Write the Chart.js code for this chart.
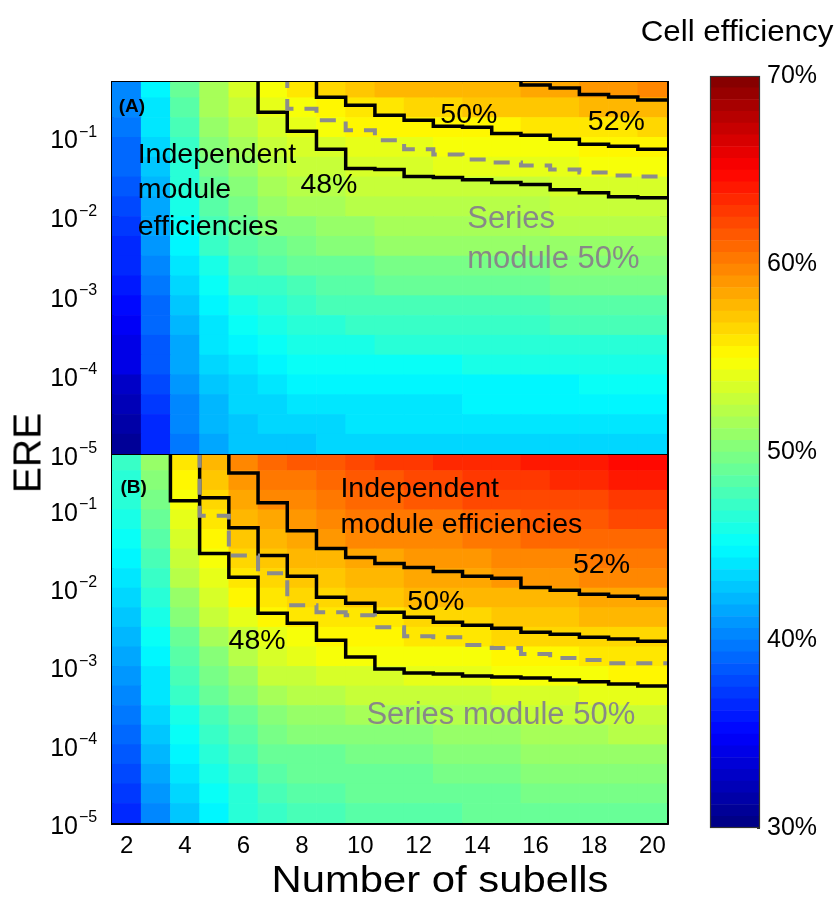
<!DOCTYPE html>
<html>
<head>
<meta charset="utf-8">
<script src="https://cdn.jsdelivr.net/npm/chart.js@4/dist/chart.umd.min.js"></script>
<style>
  body { margin: 0; background: #fff; width: 839px; height: 899px; position: relative; overflow: hidden;
         font-family: "Liberation Sans", Arial, Helvetica, sans-serif; }
  canvas { position: absolute; }
  #panelA { left: 0; top: 0; }
  #panelB { left: 0; top: 440px; }
  #cbar { left: 640px; top: 0; }
  .lbl { position: absolute; color: #000; white-space: nowrap; line-height: 1; }
  #yTitle { left: 27px; top: 453px; font-size: 39px; transform: translate(-50%, -50%) rotate(-90deg); }
  #xTitle { left: 440px; top: 879px; font-size: 37px; transform: translate(-50%, -50%) scaleX(1.13); }
  #cTitle { left: 737px; top: 31px; font-size: 29px; transform: translate(-50%, -50%) scaleX(1.08); }
</style>
</head>
<body>
<canvas id="panelA" width="700" height="480"></canvas>
<canvas id="panelB" width="700" height="459"></canvas>
<canvas id="cbar" width="199" height="860"></canvas>
<div class="lbl" id="yTitle">ERE</div>
<div class="lbl" id="xTitle">Number of subells</div>
<div class="lbl" id="cTitle">Cell efficiency</div>
<script>
const FONT = '"Liberation Sans", Arial, Helvetica, sans-serif';

// one heat-map column per subcell count
const subcells = [2, 3, 4, 5, 6, 7, 8, 9, 10, 11, 12, 13, 14, 15, 16, 17, 18, 19, 20];
const xTicks = [2, 4, 6, 8, 10, 12, 14, 16, 18, 20];
// ERE row edges (powers of ten), 19 rows
const ereEdgesExp = [-5, -4.75, -4.5, -4.25, -4, -3.75, -3.5, -3.25, -3, -2.75, -2.5, -2.25, -2, -1.75, -1.5, -1.25, -1, -0.75, -0.5, -0.25];
const ereMin = 1e-5;
const ereMax = 0.5;
const ereDecades = [1e-5, 1e-4, 1e-3, 1e-2, 1e-1];
const cbarTicks = [30, 40, 50, 60, 70];

// cell efficiency (%) for panel A, one array per column, rows bottom -> top
const effA = [
  [30.9,31.6,32.4,33.1,33.8,34.3,34.8,35.3,35.8,36.3,36.8,37.3,37.8,38.3,38.8,39.3,39.7,40.0,40.4],
  [36.3,36.8,37.3,37.8,38.2,38.6,38.9,39.3,39.8,40.3,40.8,41.3,41.8,42.3,42.8,43.3,43.8,44.3,44.8],
  [39.7,40.1,40.4,40.8,41.3,41.8,42.3,42.8,43.3,43.9,44.6,45.2,45.8,46.3,46.8,47.3,47.8,48.3,48.8],
  [41.7,42.1,42.4,42.8,43.3,43.8,44.3,44.8,45.4,46.1,46.9,47.6,48.3,48.9,49.6,50.2,50.8,51.3,51.8],
  [42.5,42.9,43.3,43.7,44.3,44.9,45.6,46.2,46.9,47.6,48.4,49.1,49.8,50.4,51.1,51.7,52.3,52.8,53.3],
  [42.8,43.2,43.6,44.1,44.7,45.4,46.1,46.7,47.4,48.3,49.2,50.1,50.8,51.4,52.1,52.7,53.4,54.1,54.8],
  [43.1,43.5,43.9,44.4,45.1,45.8,46.5,47.2,47.9,48.8,49.7,50.6,51.3,51.9,52.6,53.2,53.9,54.9,56.0],
  [43.2,43.6,44.0,44.5,45.2,46.0,46.8,47.6,48.4,49.3,50.2,51.1,51.8,52.4,53.1,53.7,54.4,55.4,56.5],
  [43.4,43.8,44.3,44.8,45.5,46.2,47.0,47.7,48.4,49.3,50.2,51.1,51.9,52.6,53.4,54.1,55.0,56.2,57.4],
  [43.4,43.8,44.3,44.8,45.6,46.4,47.3,48.1,48.9,49.8,50.7,51.6,52.3,52.9,53.6,54.2,55.0,56.2,57.5],
  [43.4,43.8,44.3,44.8,45.6,46.4,47.3,48.1,48.9,49.8,50.7,51.6,52.3,52.9,53.6,54.2,55.1,56.5,57.8],
  [43.4,43.8,44.3,44.8,45.6,46.4,47.3,48.1,48.9,49.8,50.7,51.6,52.4,53.1,53.9,54.6,55.5,56.7,57.9],
  [43.5,43.9,44.4,44.9,45.7,46.5,47.3,48.1,48.9,49.8,50.7,51.6,52.4,53.1,53.9,54.6,55.6,56.9,58.1],
  [43.5,43.9,44.4,44.9,45.7,46.5,47.3,48.1,48.9,49.8,50.7,51.6,52.4,53.1,53.9,54.6,55.6,56.9,58.1],
  [43.5,43.9,44.4,44.9,45.7,46.5,47.3,48.1,48.9,49.8,50.7,51.6,52.4,53.1,53.9,54.6,55.7,57.1,58.6],
  [43.5,43.9,44.4,44.9,45.8,46.7,47.6,48.5,49.4,50.3,51.2,52.1,52.8,53.4,54.1,54.7,55.7,57.1,58.6],
  [43.6,44.0,44.5,45.0,45.8,46.7,47.6,48.5,49.4,50.3,51.2,52.1,52.9,53.6,54.4,55.1,56.2,57.6,59.1],
  [43.6,44.0,44.5,45.0,45.8,46.7,47.6,48.5,49.4,50.3,51.2,52.1,52.9,53.6,54.4,55.1,56.2,57.6,59.1],
  [43.6,44.0,44.5,45.0,45.8,46.7,47.6,48.5,49.4,50.3,51.2,52.1,52.9,53.6,54.4,55.1,56.3,57.9,59.5]
];

// cell efficiency (%) for panel B
const effB = [
  [36.8,37.4,38.1,38.7,39.3,39.9,40.6,41.2,41.8,42.3,42.8,43.3,43.8,44.4,45.1,45.7,46.3,46.8,47.3],
  [40.3,40.9,41.6,42.2,42.8,43.3,43.8,44.3,44.8,45.4,46.1,46.7,47.3,47.9,48.6,49.2,49.8,50.3,50.8],
  [42.8,43.4,44.1,44.7,45.4,46.1,46.9,47.6,48.4,49.3,50.2,51.1,51.9,52.6,53.4,54.1,54.8,55.3,55.8],
  [44.8,45.4,46.1,46.7,47.4,48.1,48.9,49.6,50.5,51.5,52.5,53.5,54.3,54.9,55.6,56.2,56.8,57.3,57.8],
  [46.3,46.8,47.3,47.8,48.4,49.3,50.2,51.1,52.0,53.0,54.0,55.0,55.8,56.4,57.1,57.7,58.4,59.1,59.8],
  [47.3,47.8,48.3,48.8,49.5,50.5,51.5,52.5,53.4,54.3,55.2,56.1,56.8,57.4,58.1,58.7,59.4,60.1,60.8],
  [47.8,48.3,48.8,49.3,50.0,51.0,52.0,53.0,53.9,54.8,55.7,56.6,57.3,57.9,58.6,59.2,59.9,60.6,61.3],
  [47.8,48.3,48.8,49.3,50.1,51.2,52.3,53.4,54.4,55.1,55.9,56.6,57.4,58.1,58.9,59.6,60.4,61.1,61.8],
  [48.3,48.8,49.3,49.8,50.5,51.5,52.5,53.5,54.4,55.3,56.2,57.1,57.9,58.6,59.4,60.1,60.9,61.6,62.3],
  [48.3,48.8,49.3,49.8,50.5,51.5,52.5,53.5,54.4,55.3,56.2,57.1,57.9,58.6,59.4,60.1,60.9,61.8,62.7],
  [48.3,48.8,49.3,49.8,50.6,51.7,52.8,53.9,54.9,55.8,56.7,57.6,58.4,59.1,59.9,60.6,61.4,62.1,62.8],
  [48.3,48.9,49.6,50.2,51.0,52.0,53.0,54.0,54.9,55.8,56.7,57.6,58.4,59.1,59.9,60.6,61.4,62.3,63.2],
  [48.8,49.3,49.8,50.3,51.0,52.0,53.0,54.0,54.9,55.8,56.7,57.6,58.4,59.3,60.2,61.1,61.9,62.6,63.3],
  [48.8,49.3,49.8,50.3,51.1,52.2,53.3,54.4,55.4,56.3,57.2,58.1,58.9,59.6,60.4,61.1,61.9,62.8,63.7],
  [48.8,49.4,50.1,50.7,51.5,52.5,53.5,54.5,55.4,56.3,57.2,58.1,58.9,59.8,60.7,61.6,62.4,63.1,63.8],
  [48.8,49.4,50.1,50.7,51.5,52.5,53.5,54.5,55.4,56.3,57.2,58.1,58.9,59.8,60.7,61.6,62.4,63.3,64.2],
  [49.3,49.8,50.3,50.8,51.6,52.7,53.8,54.9,55.9,56.8,57.7,58.6,59.4,60.1,60.9,61.6,62.4,63.3,64.2],
  [49.3,49.9,50.6,51.2,52.0,53.0,54.0,55.0,55.9,56.8,57.7,58.6,59.4,60.3,61.2,62.1,62.9,63.8,64.7],
  [49.3,49.9,50.6,51.2,52.0,53.0,54.0,55.0,55.9,56.8,57.7,58.6,59.4,60.3,61.2,62.1,62.9,63.8,64.7]
];

// module efficiency contours: ERE at which each column reaches the level.
// ABOVE = level not reached inside the plotted ERE range
const ABOVE = 1;
const indepA48 = [ABOVE, ABOVE, ABOVE, ABOVE, ABOVE, 0.208, 0.119, 0.0705, 0.0404, 0.0392, 0.0319, 0.0310, 0.0292, 0.0268, 0.0253, 0.0218, 0.0200, 0.0178, 0.0173];
const indepA50 = [ABOVE, ABOVE, ABOVE, ABOVE, ABOVE, ABOVE, ABOVE, 0.322, 0.255, 0.190, 0.164, 0.138, 0.134, 0.112, 0.106, 0.0943, 0.0815, 0.0769, 0.0705];
const indepA52 = [ABOVE, ABOVE, ABOVE, ABOVE, ABOVE, ABOVE, ABOVE, ABOVE, ABOVE, ABOVE, ABOVE, ABOVE, ABOVE, ABOVE, 0.458, 0.420, 0.347, 0.324, 0.296];
const seriesA50 = [ABOVE, ABOVE, ABOVE, ABOVE, ABOVE, ABOVE, 0.230, 0.164, 0.123, 0.0916, 0.0705, 0.0608, 0.0525, 0.0481, 0.0441, 0.0392, 0.0359, 0.0329, 0.0319];

const indepB48 = [ABOVE, ABOVE, 0.130, 0.0276, 0.0137, 0.00477, 0.00356, 0.00216, 0.00132, 0.000927, 0.000824, 0.000800, 0.000755, 0.000733, 0.000712, 0.000672, 0.000634, 0.000597, 0.000563];
const indepB50 = [ABOVE, ABOVE, ABOVE, 0.142, 0.059, 0.026, 0.0141, 0.00762, 0.0064, 0.00491, 0.00425, 0.00367, 0.00336, 0.00307, 0.00273, 0.00258, 0.00236, 0.00223, 0.0021];
const indepB52 = [ABOVE, ABOVE, ABOVE, ABOVE, 0.295, 0.123, 0.054, 0.0319, 0.0245, 0.0206, 0.0183, 0.0163, 0.0141, 0.0133, 0.0102, 0.00935, 0.00832, 0.00785, 0.0074];
const seriesB50 = [ABOVE, ABOVE, ABOVE, 0.0839, 0.026, 0.0154, 0.00603, 0.00491, 0.0045, 0.00317, 0.00243, 0.00236, 0.00187, 0.00171, 0.00144, 0.00128, 0.00121, 0.0011, 0.0011];

// jet colormap with 64 steps over 30..70 %
const CMIN = 30, CMAX = 70, NCOL = 64;
function jet(v) {
  let t = (v - CMIN) / (CMAX - CMIN);
  t = Math.min(Math.max(t, 0), 0.99999);
  t = (Math.floor(t * NCOL) + 0.5) / NCOL;
  const c = k => Math.round(255 * Math.min(1, Math.max(0, 1.5 - Math.abs(4 * t - k))));
  return 'rgb(' + c(3) + ',' + c(2) + ',' + c(1) + ')';
}

// one floating-bar dataset per ERE row
function heatRows(eff) {
  const rows = [];
  for (let k = 0; k < ereEdgesExp.length - 1; k++) {
    const lo = Math.pow(10, ereEdgesExp[k]);
    const hi = Math.pow(10, ereEdgesExp[k + 1]);
    rows.push({
      type: 'bar',
      order: 5,
      data: subcells.map(n => ({ x: n, y: [lo, hi] })),
      backgroundColor: eff.map(col => jet(col[k])),
      borderWidth: 0,
      grouped: false,
      barPercentage: 1,
      categoryPercentage: 1
    });
  }
  return rows;
}

// step contour: each value holds across its column, jumps on the column edges
function contour(vals, grey) {
  const pts = subcells.map((n, i) => ({ x: n - 0.5, y: vals[i] }));
  pts.push({ x: subcells[subcells.length - 1] + 0.5, y: vals[vals.length - 1] });
  return {
    type: 'line',
    order: grey ? 0 : 1,
    data: pts,
    stepped: 'before',
    borderColor: grey ? '#8c8c8c' : '#000',
    borderWidth: grey ? 4 : 3.5,
    borderDash: grey ? [16, 11] : [],
    pointRadius: 0,
    fill: false,
    clip: 0
  };
}

const ereTicks = [];
ereDecades.forEach(d => {
  for (let m = 1; m <= 9; m++) if (d * m < ereMax * 0.999) ereTicks.push(d * m);
});

// "10^-k" labels on the left axis
const decadeLabels = {
  id: 'decadeLabels',
  afterDraw(chart) {
    const s = chart.scales.y, ctx = chart.ctx;
    ctx.save();
    ctx.fillStyle = '#000';
    ctx.textBaseline = 'middle';
    ereDecades.forEach(v => {
      const py = s.getPixelForValue(v);
      if (py < s.top - 2 || py > s.bottom + 2) return;
      ctx.font = '25px ' + FONT;
      ctx.textAlign = 'right';
      ctx.fillText('10', 78, py + 4);
      ctx.font = '16px ' + FONT;
      ctx.textAlign = 'left';
      ctx.fillText('\u2212' + Math.round(-Math.log10(v)), 79, py - 5);
    });
    ctx.restore();
  }
};

function notesPlugin(notes) {
  return {
    id: 'notes',
    afterDraw(chart) {
      const { ctx, scales: { x, y } } = chart;
      ctx.save();
      ctx.textAlign = 'left';
      ctx.textBaseline = 'alphabetic';
      notes.forEach(n => {
        ctx.font = (n.bold ? 'bold ' : '') + (n.size || 28.5) + 'px ' + FONT;
        ctx.fillStyle = n.color || '#000';
        ctx.fillText(n.text, x.getPixelForValue(n.x), y.getPixelForValue(n.y));
      });
      ctx.restore();
    }
  };
}

function panelScales(topH, bottomH, xLabels) {
  const inward = { color: '#000', lineWidth: 2.5, drawOnChartArea: false, drawTicks: true, tickLength: -7, offset: false };
  const edge = { display: true, color: '#000', width: 3 };
  const xAxis = (pos, h, labels) => ({
    type: 'linear', position: pos, min: 1.5, max: 20.5, offset: false, z: 1,
    afterBuildTicks: s => { s.ticks = xTicks.map(v => ({ value: v })); },
    afterFit: s => { s.height = h; },
    grid: inward, border: edge,
    ticks: labels
      ? { display: true, autoSkip: false, maxRotation: 0, padding: 16, color: '#000', font: { size: 24, family: FONT } }
      : { display: false }
  });
  const yAxis = (pos, w) => ({
    type: 'logarithmic', position: pos, min: ereMin, max: ereMax, z: 1,
    afterBuildTicks: s => { s.ticks = ereTicks.map(v => ({ value: v })); },
    afterFit: s => { s.width = w; },
    grid: inward, border: edge,
    ticks: { display: false }
  });
  return {
    x: xAxis('bottom', bottomH, xLabels),
    x2: xAxis('top', topH, false),
    y: yAxis('left', 112),
    y2: yAxis('right', 33)
  };
}

function makePanel(id, eff, lines, notes, topH, bottomH, xLabels) {
  return new Chart(document.getElementById(id), {
    type: 'bar',
    data: { datasets: lines.concat(heatRows(eff)) },
    options: {
      responsive: false,
      animation: false,
      devicePixelRatio: 1,
      events: [],
      layout: { padding: 0 },
      plugins: { legend: { display: false }, tooltip: { enabled: false } },
      scales: panelScales(topH, bottomH, xLabels)
    },
    plugins: [decadeLabels, notesPlugin(notes)]
  });
}

const GREY = '#888888';

makePanel('panelA', effA, [
  contour(indepA52), contour(indepA50), contour(indepA48), contour(seriesA50, true)
], [
  { text: '(A)', x: 1.73, y: 10 ** -0.68, bold: true, size: 19 },
  { text: 'Independent', x: 2.38, y: 10 ** -1.324 },
  { text: 'module', x: 2.38, y: 10 ** -1.767 },
  { text: 'efficiencies', x: 2.38, y: 10 ** -2.234 },
  { text: '48%', x: 7.95, y: 10 ** -1.703 },
  { text: '50%', x: 12.74, y: 10 ** -0.819 },
  { text: '52%', x: 17.79, y: 10 ** -0.907 },
  { text: 'Series', x: 13.66, y: 10 ** -2.145, color: GREY, size: 31 },
  { text: 'module 50%', x: 13.66, y: 10 ** -2.651, color: GREY, size: 31 }
], 82, 26, false);

makePanel('panelB', effB, [
  contour(indepB52), contour(indepB50), contour(indepB48), contour(seriesB50, true)
], [
  { text: '(B)', x: 1.79, y: 10 ** -0.785, bold: true, size: 19 },
  { text: 'Independent', x: 9.32, y: 10 ** -0.836 },
  { text: 'module efficiencies', x: 9.32, y: 10 ** -1.295 },
  { text: '52%', x: 17.28, y: 10 ** -1.804 },
  { text: '50%', x: 11.61, y: 10 ** -2.275 },
  { text: '48%', x: 5.49, y: 10 ** -2.772 },
  { text: 'Series module 50%', x: 10.21, y: 10 ** -3.74, color: GREY, size: 31 }
], 15, 76, true);

// colour bar: one floating bar per colormap step
const step = (CMAX - CMIN) / NCOL;
const bands = [];
for (let i = 0; i < NCOL; i++) bands.push(CMIN + i * step);

const outline = {
  id: 'outline',
  afterDatasetsDraw(chart) {
    const { ctx, chartArea: a } = chart;
    ctx.save();
    ctx.strokeStyle = '#333';
    ctx.lineWidth = 1.2;
    ctx.strokeRect(a.left + 0.5, a.top + 0.5, a.width - 1, a.height - 1);
    ctx.restore();
  }
};

new Chart(document.getElementById('cbar'), {
  type: 'bar',
  data: {
    labels: ['eff'],
    datasets: bands.map(lo => ({
      data: [[lo, lo + step]],
      backgroundColor: jet(lo + step / 2),
      borderWidth: 0,
      grouped: false,
      barPercentage: 1,
      categoryPercentage: 1
    }))
  },
  options: {
    responsive: false,
    animation: false,
    devicePixelRatio: 1,
    events: [],
    layout: { padding: { left: 70, top: 76, bottom: 32, right: 0 } },
    plugins: { legend: { display: false }, tooltip: { enabled: false } },
    scales: {
      x: { display: false },
      y: {
        position: 'right', min: CMIN, max: CMAX, z: 1,
        afterBuildTicks: s => { s.ticks = cbarTicks.map(v => ({ value: v })); },
        afterFit: s => { s.width = 79; },
        grid: { drawOnChartArea: false, tickLength: -3, color: '#333', lineWidth: 1 },
        border: { display: false },
        ticks: { padding: 10, color: '#000', font: { size: 25, family: FONT }, callback: v => v + '%' }
      }
    }
  },
  plugins: [outline]
});
</script>
</body>
</html>
